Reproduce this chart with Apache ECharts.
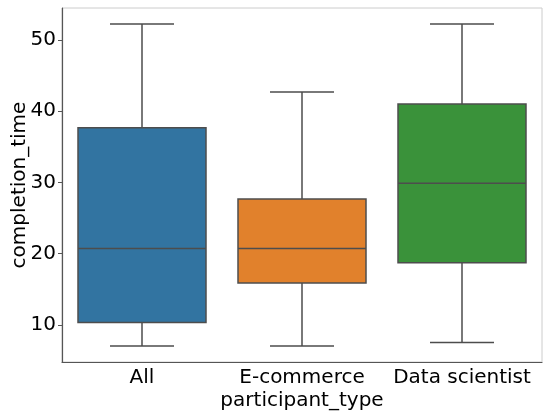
<!DOCTYPE html>
<html><head><meta charset="utf-8">
<script src="https://cdn.jsdelivr.net/npm/echarts@6/dist/echarts.min.js"></script>
<style>html,body{margin:0;padding:0;background:#fff}#c{width:544px;height:412px}</style>
</head><body><div id="c"></div>
<script>
const categories = ['All', 'E-commerce', 'Data scientist'];
const whiskerLow = [7.04, 7.04, 7.55];
const q1 = [10.35, 15.88, 18.72];
const median = [20.73, 20.73, 29.90];
const q3 = [37.70, 27.70, 41.02];
const whiskerHigh = [52.24, 42.71, 52.24];
const colors = ['#3274a1', '#e1812c', '#3a923a'];
const yTicks = [10, 20, 30, 40, 50];

const data = categories.map((c, i) => [i, whiskerLow[i], q1[i], median[i], q3[i], whiskerHigh[i]]);
const FONT = 'DejaVu Sans';
const lineCol = '#4d4d4d';

const chart = echarts.init(document.getElementById('c'), null, {renderer: 'canvas'});
chart.setOption({
  animation: false,
  grid: {left: 62, right: 2, top: 8, bottom: 50, containLabel: false, outerBoundsMode: 'none'},
  xAxis: {
    type: 'category', data: categories,
    name: 'participant_type', nameLocation: 'middle', nameGap: 29, nameMoveOverlap: false,
    nameTextStyle: {fontFamily: FONT, fontSize: 20, color: '#000'},
    axisLine: {lineStyle: {color: '#555', width: 1.2}},
    axisTick: {alignWithLabel: true, length: 4, lineStyle: {color: '#555'}},
    axisLabel: {fontFamily: FONT, fontSize: 20, color: '#000', margin: 6, interval: 0, hideOverlap: false},
    splitLine: {show: false}
  },
  yAxis: {
    type: 'value', min: 4.8, max: 54.5,
    name: 'completion_time', nameLocation: 'middle', nameGap: 32, nameMoveOverlap: false,
    nameTextStyle: {fontFamily: FONT, fontSize: 20, color: '#000'},
    axisLine: {show: true, lineStyle: {color: '#555', width: 1.2}},
    axisTick: {show: true, length: 4, customValues: yTicks, lineStyle: {color: '#555'}},
    axisLabel: {fontFamily: FONT, fontSize: 20, color: '#000', margin: 6, customValues: yTicks},
    splitLine: {show: false}
  },
  graphic: [{
    type: 'rect', shape: {x: 62, y: 8, width: 480, height: 354},
    style: {fill: null, stroke: '#cccccc', lineWidth: 1}, z: -1, silent: true
  }],
  series: [{
    type: 'custom',
    data: data,
    encode: {x: 0, y: [1, 2, 3, 4, 5]},
    renderItem: function (params, api) {
      const i = api.value(0);
      const band = api.size([1, 0])[0];
      const half = band * 0.4;
      const cap = band * 0.2;
      const cx = api.coord([i, 0])[0];
      const yLow = api.coord([i, api.value(1)])[1];
      const yQ1 = api.coord([i, api.value(2)])[1];
      const yMed = api.coord([i, api.value(3)])[1];
      const yQ3 = api.coord([i, api.value(4)])[1];
      const yHigh = api.coord([i, api.value(5)])[1];
      const ls = {stroke: lineCol, lineWidth: 1.5};
      return {
        type: 'group',
        children: [
          {type: 'line', shape: {x1: cx, y1: yQ1, x2: cx, y2: yLow}, style: ls},
          {type: 'line', shape: {x1: cx, y1: yQ3, x2: cx, y2: yHigh}, style: ls},
          {type: 'line', shape: {x1: cx - cap, y1: yLow, x2: cx + cap, y2: yLow}, style: ls},
          {type: 'line', shape: {x1: cx - cap, y1: yHigh, x2: cx + cap, y2: yHigh}, style: ls},
          {type: 'rect', shape: {x: cx - half, y: yQ3, width: 2 * half, height: yQ1 - yQ3},
            style: {fill: colors[i], stroke: lineCol, lineWidth: 1.5}},
          {type: 'line', shape: {x1: cx - half, y1: yMed, x2: cx + half, y2: yMed}, style: ls}
        ]
      };
    }
  }]
});
</script></body></html>
